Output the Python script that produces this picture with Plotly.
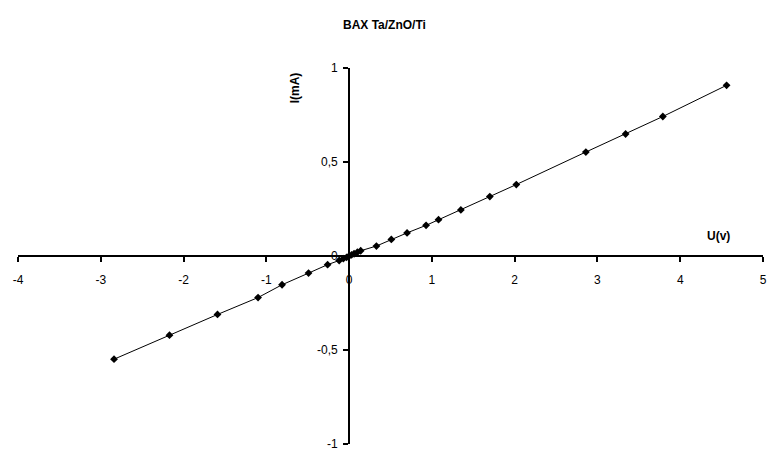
import plotly.graph_objects as go

# Data (U in volts, I in mA)
voltage = [-2.84, -2.17, -1.59, -1.10, -0.81, -0.49, -0.26, -0.12, -0.07, -0.03,
           0.0, 0.03, 0.06, 0.10, 0.14, 0.33, 0.51, 0.70, 0.93, 1.08,
           1.35, 1.70, 2.02, 2.86, 3.34, 3.79, 4.56]
current = [-0.549, -0.421, -0.311, -0.221, -0.153, -0.091, -0.046, -0.024, -0.014, -0.007,
           0.0, 0.006, 0.012, 0.020, 0.028, 0.053, 0.088, 0.123, 0.163, 0.193,
           0.245, 0.316, 0.380, 0.553, 0.649, 0.742, 0.908]

x_ticks = [-4, -3, -2, -1, 0, 1, 2, 3, 4, 5]
y_ticks = [-1, -0.5, 0, 0.5, 1]
y_tick_labels = ["-1", "-0,5", "0", "0,5", "1"]

title_text = "BAX Ta/ZnO/Ti"
x_title = "U(v)"
y_title = "I(mA)"

FONT = "Arial, 'Liberation Sans', sans-serif"

fig = go.Figure()
fig.add_trace(go.Scatter(
    x=voltage, y=current, mode="lines+markers",
    line=dict(color="black", width=1),
    marker=dict(symbol="diamond", size=6, color="black"),
    showlegend=False, hoverinfo="skip",
))

fig.update_layout(
    width=768, height=452,
    margin=dict(l=18, r=1, t=68, b=4),
    paper_bgcolor="white", plot_bgcolor="white",
    font=dict(family=FONT, size=12, color="black"),
    separators=", ",
    showlegend=False,
    xaxis=dict(
        range=[-4, 5], tickvals=x_ticks, ticktext=[str(v) for v in x_ticks],
        anchor="free", position=0.5,
        showline=True, linecolor="black", linewidth=2,
        ticks="outside", ticklen=5, tickwidth=1.5, tickcolor="black",
        showgrid=False, zeroline=False,
        tickfont=dict(family=FONT, size=12, color="black"),
        ticklabelstandoff=8, ticklabeloverflow="allow",
    ),
    yaxis=dict(
        range=[-1, 1], tickvals=y_ticks, ticktext=y_tick_labels,
        anchor="free", position=4/9,
        showline=True, linecolor="black", linewidth=2,
        ticks="outside", ticklen=5, tickwidth=1.5, tickcolor="black",
        showgrid=False, zeroline=False,
        tickfont=dict(family=FONT, size=12, color="black"),
        ticklabelstandoff=3, ticklabeloverflow="allow",
    ),
    annotations=[
        dict(text="<b>%s</b>" % title_text, xref="paper", yref="paper",
             x=(386 - 18) / 749, y=(448 - 24.7) / 380, xanchor="center", yanchor="middle",
             showarrow=False, font=dict(family=FONT, size=12, color="black")),
        dict(text="<b>%s</b>" % x_title, xref="paper", yref="paper",
             x=(722.5 - 18) / 749, y=(448 - 238) / 380, xanchor="center", yanchor="middle",
             showarrow=False, font=dict(family=FONT, size=12, color="black")),
        dict(text="<b>%s</b>" % y_title, xref="paper", yref="paper",
             x=(296 - 18) / 749, y=(448 - 88) / 380, xanchor="center", yanchor="middle",
             textangle=-90,
             showarrow=False, font=dict(family=FONT, size=12, color="black")),
    ],
)

fig.write_html(
    "out.html",
    config=dict(displayModeBar=False),
    post_script=(
        "document.documentElement.style.overflow='hidden';"
        "document.body.style.overflow='hidden';"
        "document.body.style.margin='0';"
    ),
)
